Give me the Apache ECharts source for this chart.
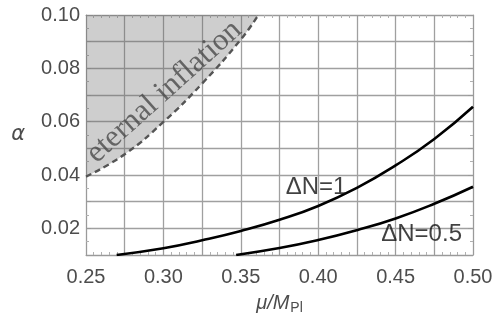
<!DOCTYPE html>
<html>
<head>
<meta charset="utf-8">
<script src="https://cdn.jsdelivr.net/npm/echarts@6/dist/echarts.min.js"></script>
<style>
  html, body { margin: 0; padding: 0; background: #fff; }
  #chart { width: 502px; height: 320px; }
</style>
</head>
<body>
<div id="chart"></div>
<script>
// boundary of the eternal inflation region, [mu/Mpl, alpha]
var eternalEdge = [[0.25, 0.0394], [0.275, 0.0478], [0.30, 0.0599], [0.325, 0.0743], [0.35, 0.0908], [0.3613, 0.10]];
// Delta N = 1 curve
var curveN1 = [[0.2698, 0.01], [0.30, 0.0125], [0.325, 0.0155], [0.35, 0.019], [0.375, 0.0232], [0.40, 0.0284], [0.425, 0.0352], [0.45, 0.0436], [0.475, 0.0535], [0.50, 0.0656]];
// Delta N = 0.5 curve
var curveN05 = [[0.347, 0.01], [0.375, 0.0126], [0.40, 0.0156], [0.425, 0.0193], [0.45, 0.0237], [0.475, 0.0292], [0.50, 0.0356]];
// text labels placed in data coordinates
var curveLabels = [
  { name: 'ΔN=1', value: [0.3986, 0.0355] },
  { name: 'ΔN=0.5', value: [0.4668, 0.0179] }
];
var regionLabel = [{ name: 'eternal inflation', value: [0.3005, 0.0712] }];

var gridColor = '#a0a0a0';
var tickColor = '#4d4d4d';

function xLabel(v) {
  return Math.round(v * 1000) % 50 === 0 ? v.toFixed(2) : '';
}
function yLabel(v) {
  return Math.round(v * 100) % 2 === 0 ? v.toFixed(2) : '';
}

var frameAxis = {
  axisLine: { show: true, lineStyle: { color: '#9a9a9a', width: 1 } },
  axisTick: { show: true, inside: true, length: 5, lineStyle: { color: '#9a9a9a' } },
  minorTick: { show: true, splitNumber: 5, length: 3, lineStyle: { color: '#b0b0b0' } }
};

var myChart = echarts.init(document.getElementById('chart'));
var option = {
  animation: false,
  grid: { left: 86, right: 29, top: 15, bottom: 65 },
  xAxis: [
    {
      type: 'value', min: 0.25, max: 0.5, interval: 0.025,
      axisLine: frameAxis.axisLine,
      axisTick: frameAxis.axisTick,
      minorTick: frameAxis.minorTick,
      splitLine: { show: true, lineStyle: { color: gridColor, width: 1.3 } },
      axisLabel: { formatter: xLabel, color: tickColor, fontSize: 20, fontFamily: 'Liberation Sans', margin: 12 },
      name: '{i|μ/M}{s|Pl}',
      nameLocation: 'middle',
      nameGap: 36,
      nameTextStyle: {
        rich: {
          i: { fontSize: 20, fontStyle: 'italic', color: tickColor, fontFamily: 'Liberation Sans' },
          s: { fontSize: 14, color: tickColor, fontFamily: 'Liberation Sans', verticalAlign: 'bottom', padding: [10, 0, 0, 1] }
        }
      }
    },
    {
      type: 'value', min: 0.25, max: 0.5, interval: 0.025, position: 'top',
      axisLine: frameAxis.axisLine,
      axisTick: frameAxis.axisTick,
      minorTick: frameAxis.minorTick,
      splitLine: { show: false },
      axisLabel: { show: false }
    }
  ],
  yAxis: [
    {
      type: 'value', min: 0.01, max: 0.1, interval: 0.01,
      axisLine: frameAxis.axisLine,
      axisTick: frameAxis.axisTick,
      minorTick: { show: true, splitNumber: 2, length: 3, lineStyle: { color: '#b0b0b0' } },
      splitLine: { show: true, lineStyle: { color: gridColor, width: 1.3 } },
      axisLabel: { formatter: yLabel, color: tickColor, fontSize: 20, fontFamily: 'Liberation Sans', margin: 6 },
      name: 'α',
      nameLocation: 'middle',
      nameRotate: 0,
      nameGap: 61,
      nameTextStyle: { fontSize: 21, fontStyle: 'italic', color: tickColor, fontFamily: 'DejaVu Sans', padding: [4, 0, 0, 0] }
    },
    {
      type: 'value', min: 0.01, max: 0.1, interval: 0.01, position: 'right',
      axisLine: frameAxis.axisLine,
      axisTick: frameAxis.axisTick,
      minorTick: { show: true, splitNumber: 2, length: 3, lineStyle: { color: '#b0b0b0' } },
      splitLine: { show: false },
      axisLabel: { show: false }
    }
  ],
  series: [
    {
      type: 'line',
      data: eternalEdge,
      smooth: true,
      symbol: 'none',
      clip: true,
      lineStyle: { color: '#555', width: 2.4, type: [6, 4] },
      areaStyle: { origin: 'end', color: 'rgba(100,100,100,0.45)' },
      z: 3
    },
    {
      type: 'line',
      data: curveN1,
      smooth: true,
      symbol: 'none',
      clip: true,
      lineStyle: { color: '#000', width: 2.6 },
      z: 4
    },
    {
      type: 'line',
      data: curveN05,
      smooth: true,
      symbol: 'none',
      clip: true,
      lineStyle: { color: '#000', width: 2.6 },
      z: 4
    },
    {
      type: 'scatter',
      data: curveLabels,
      symbolSize: 0,
      label: {
        show: true, position: 'inside', formatter: '{b}',
        fontSize: 24, color: '#111', fontFamily: 'Liberation Sans'
      },
      z: 5
    },
    {
      type: 'scatter',
      data: regionLabel,
      symbolSize: 0,
      label: {
        show: true, position: 'inside', formatter: '{b}', rotate: 42,
        fontSize: 31, color: '#4a4a4a', fontFamily: 'Liberation Serif'
      },
      z: 5
    }
  ]
};
myChart.setOption(option);
</script>
</body>
</html>
